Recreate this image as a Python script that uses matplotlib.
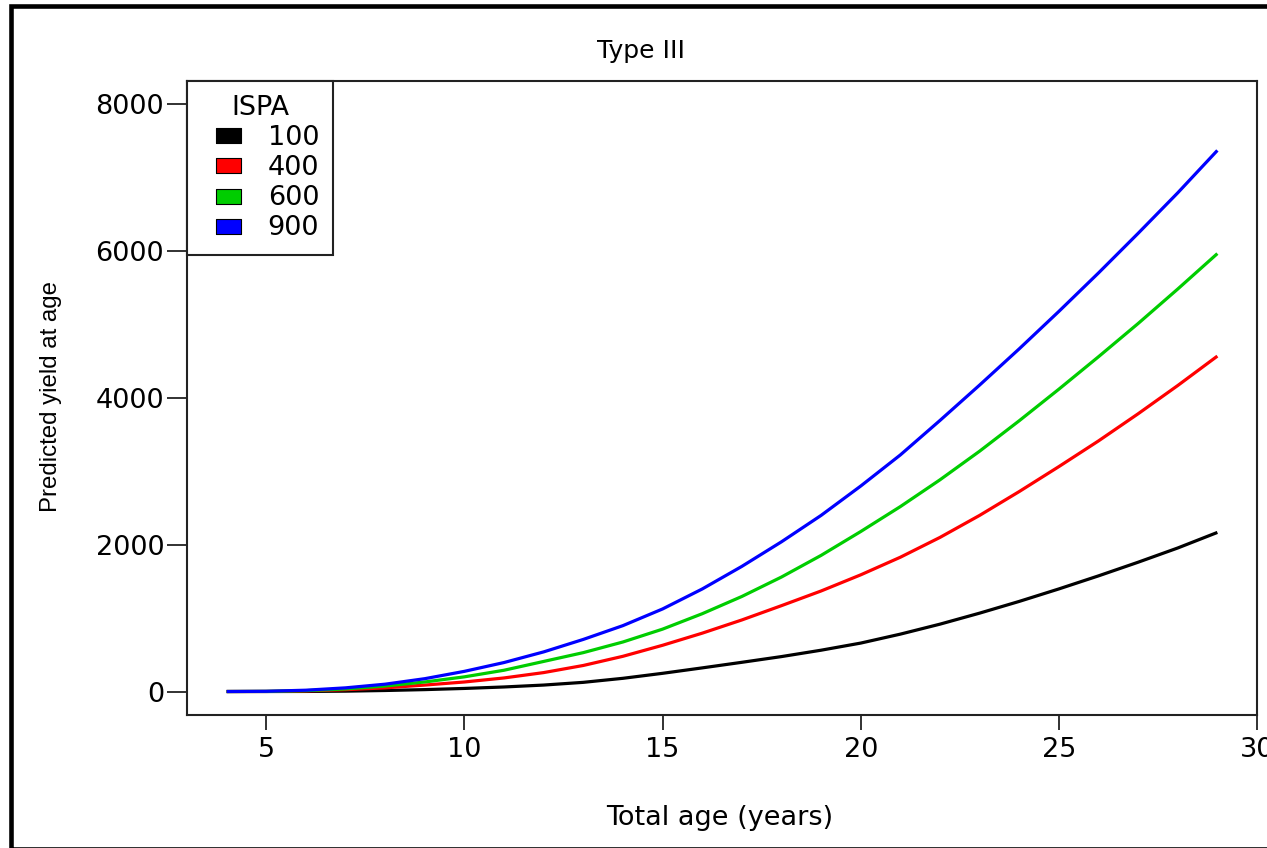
import numpy as np
import matplotlib.pyplot as plt
from matplotlib.lines import Line2D
from matplotlib.patches import Rectangle

# Data (predicted yield at each total age)
ages = [4, 5, 6, 7, 8, 9, 10, 11, 12, 13, 14, 15, 16, 17, 18, 19, 20, 21, 22, 23, 24, 25, 26, 27, 28, 29]
ispa_labels = ['100', '400', '600', '900']

yield_100 = [0, 0, 1, 5, 14, 26, 42, 62, 88, 125, 180, 248, 322, 398, 476, 563, 660, 782, 918, 1068,
             1228, 1398, 1576, 1762, 1956, 2168]
yield_400 = [0, 1, 8, 25, 50, 88, 130, 185, 258, 355, 480, 630, 795, 975, 1170, 1370, 1590, 1830, 2100, 2400,
             2725, 3065, 3415, 3785, 4170, 4571]
yield_600 = [0, 2, 12, 35, 75, 130, 200, 290, 410, 530, 675, 850, 1060, 1295, 1560, 1855, 2180, 2520, 2885, 3275,
             3690, 4120, 4562, 5015, 5485, 5968]
yield_900 = [0, 3, 18, 50, 100, 175, 275, 395, 540, 710, 898, 1125, 1397, 1705, 2040, 2400, 2800, 3224, 3694, 4176,
             4670, 5180, 5704, 6244, 6796, 7374]

series = [yield_100, yield_400, yield_600, yield_900]
colors = ['#000000', '#FF0000', '#00CD00', '#0000FF']

W, H = 1267, 848
fig = plt.figure(figsize=(W / 100, H / 100), dpi=100)
ax = fig.add_axes([187 / W, 1 - 715 / H, 1070 / W, 634 / H])

for vals, c in zip(series, colors):
    ax.plot(ages, vals, color=c, lw=2.3, solid_capstyle='butt')

ax.set_xlim(3, 30)
ax.set_ylim(-320, 8320)
ax.set_xticks([5, 10, 15, 20, 25, 30])
ax.set_yticks([0, 2000, 4000, 6000, 8000])
ax.tick_params(axis='x', length=10.8, width=1.3, labelsize=19.5, pad=5, color='#222222')
ax.tick_params(axis='y', length=14.4, width=1.3, labelsize=19.5, pad=2, color='#222222')
for sp in ax.spines.values():
    sp.set_linewidth(1.5)
    sp.set_color('#222222')

# titles and axis labels
fig.text(641 / W, 1 - 51 / H, 'Type III', ha='center', va='center', fontsize=18)
fig.text(720 / W, 1 - 818 / H, 'Total age (years)', ha='center', va='center', fontsize=19.5)
fig.text(51 / W, 1 - 397 / H, 'Predicted yield at age', ha='center', va='center', rotation=90,
         fontsize=17.3, family=['Liberation Sans', 'DejaVu Sans'])

# legend with rectangular swatches
box = [(-1, -0.6), (1, -0.6), (1, 0.6), (-1, 0.6), (-1, -0.6)]
handles = [Line2D([], [], linestyle='none', marker=box, markersize=18, markerfacecolor=c,
                  markeredgecolor='black', markeredgewidth=0.8) for c in colors]
leg = ax.legend(handles, ispa_labels, title='ISPA', loc='upper left', borderaxespad=0,
                fancybox=False, edgecolor='#222222', framealpha=1, fontsize=19.5, title_fontsize=19.5,
                numpoints=1, handlelength=2.04, handletextpad=0.44, labelspacing=0.155, borderpad=0.5)
leg.get_frame().set_linewidth(1.5)

# outer border round the figure
fig.patches.append(Rectangle((10.5 / W, 1 - 848.5 / H), 1.02, (848.5 - 6) / H, transform=fig.transFigure,
                             fill=False, edgecolor='black', lw=3.3))

plt.savefig('out.png', dpi=100)
